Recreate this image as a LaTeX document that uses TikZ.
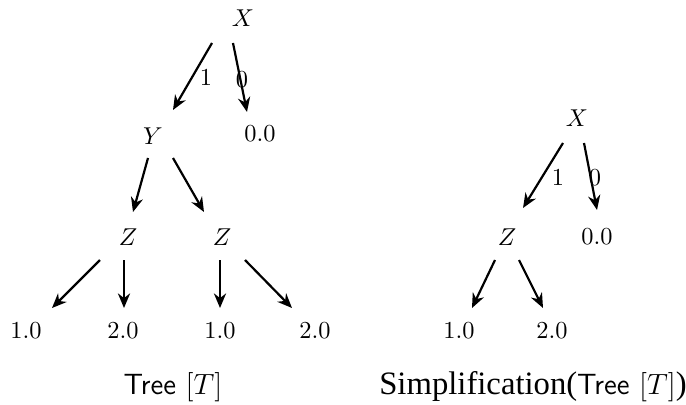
\documentclass[tikz,border=0pt]{standalone}
\usepackage{fontspec}
\newfontfamily\timesf{Liberation Serif}
\newcommand{\tms}[1]{{\fontsize{13.4}{16}\selectfont\timesf #1}}
\usetikzlibrary{arrows.meta}
\begin{document}
\begin{tikzpicture}[x=0.41pt,y=-0.41pt,
  lbl/.style={inner sep=0pt, anchor=center},
  arr/.style={-{Stealth[length=6pt,width=5pt]}, line width=0.9pt},
  captext/.style={inner sep=0pt, anchor=base, font=\large}]
\useasboundingbox (0,0) rectangle (686,405);
% left tree
\node[lbl] (X) at (243,18) {$X$};
\node[lbl] (Y) at (153,136) {$Y$};
\node[lbl] (A0) at (260,134) {$0.0$};
\node[lbl] (Z1) at (128,237) {$Z$};
\node[lbl] (Z2) at (222,237) {$Z$};
\node[lbl] (L1) at (26,331) {$1.0$};
\node[lbl] (L2) at (123,331) {$2.0$};
\node[lbl] (L3) at (220,331) {$1.0$};
\node[lbl] (L4) at (315,331) {$2.0$};
\node[lbl] (e1) at (206,78) {$1$};
\node[lbl] (e0) at (242,80) {$0$};
\node[captext] (c1) at (173,394) {\textsf{Tree} $[T]$};
\draw[arr] ([shift={(-31,25)}]X.center) -- ([shift={(20,-26)}]Y.center);
\draw[arr] ([shift={(-10,25)}]X.center) -- ([shift={(-13,-22)}]A0.center);
\draw[arr] ([shift={(-5,22)}]Y.center) -- ([shift={(5,-25)}]Z1.center);
\draw[arr] ([shift={(20,22)}]Y.center) -- ([shift={(-18,-25)}]Z2.center);
\draw[arr] ([shift={(-28,23)}]Z1.center) -- ([shift={(26,-23)}]L1.center);
\draw[arr] ([shift={(-4,23)}]Z1.center) -- ([shift={(1,-23)}]L2.center);
\draw[arr] ([shift={(-2,23)}]Z2.center) -- ([shift={(0,-23)}]L3.center);
\draw[arr] ([shift={(23,23)}]Z2.center) -- ([shift={(-23,-23)}]L4.center);
% right tree
\node[lbl] (RX) at (577,118) {$X$};
\node[lbl] (RZ) at (507,237) {$Z$};
\node[lbl] (R0) at (597,237) {$0.0$};
\node[lbl] (R1) at (459,331) {$1.0$};
\node[lbl] (R2) at (552,331) {$2.0$};
\node[lbl] (f1) at (558,178) {$1$};
\node[lbl] (f0) at (595,178) {$0$};
\node[captext] (c2) at (533,394) {\tms{Simplification(}\textsf{Tree} $[T]$\tms{)}};
\draw[arr] ([shift={(-14,25)}]RX.center) -- ([shift={(16,-29)}]RZ.center);
\draw[arr] ([shift={(7,25)}]RX.center) -- ([shift={(0,-27)}]R0.center);
\draw[arr] ([shift={(-12,23)}]RZ.center) -- ([shift={(13,-23)}]R1.center);
\draw[arr] ([shift={(12,23)}]RZ.center) -- ([shift={(-9,-23)}]R2.center);
\end{tikzpicture}
\end{document}
